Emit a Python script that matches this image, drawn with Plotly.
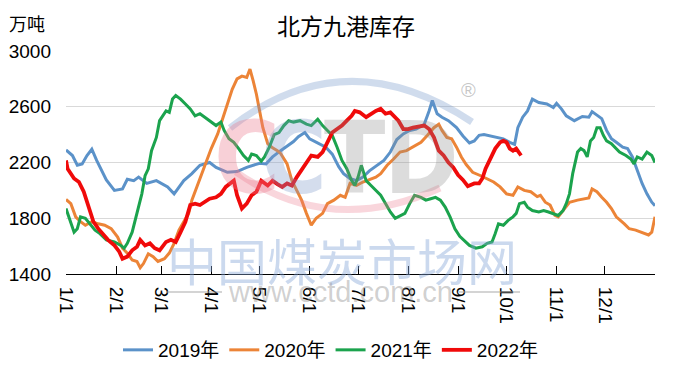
import plotly.graph_objects as go

# ---------------- data (day-of-year, value in 万吨) ----------------
month_ticks = [0, 31, 59, 90, 120, 151, 181, 212, 243, 273, 304, 334, 365]
month_labels = ["1/1", "2/1", "3/1", "4/1", "5/1", "6/1", "7/1", "8/1", "9/1", "10/1", "11/1", "12/1", ""]

days_2019 = [0, 4, 7, 10, 13, 16, 19, 22, 25, 30, 35, 38, 42, 45, 50, 56, 63, 67, 70, 73, 78, 83, 89, 93,
             100, 106, 112, 120, 124, 128, 133, 137, 141, 144, 148, 151, 155, 161, 165, 169, 172, 176, 180,
             184, 188, 193, 197, 201, 205, 209, 213, 217, 222, 225, 227, 230, 233, 237, 242, 246, 250, 253,
             256, 259, 263, 267, 271, 275, 278, 280, 283, 286, 289, 293, 298, 302, 304, 307, 310, 315, 320,
             324, 326, 329, 332, 335, 338, 341, 345, 348, 351, 354, 357, 360, 363, 365]
vals_2019 = [2290, 2250, 2180, 2190, 2250, 2295, 2215, 2145, 2075, 2000, 2010, 2080, 2070, 2095, 2050, 2070,
             2025, 1975, 2020, 2070, 2120, 2180, 2200, 2165, 2130, 2135, 2165, 2195, 2190, 2240, 2285, 2320,
             2350, 2385, 2415, 2370, 2345, 2310, 2260, 2170, 2120, 2085, 2070, 2095, 2140, 2180, 2215, 2275,
             2365, 2405, 2430, 2440, 2475, 2570, 2645, 2550, 2525, 2500, 2450, 2390, 2340, 2355, 2395, 2400,
             2390, 2380, 2370, 2345, 2330, 2450, 2525, 2570, 2655, 2630, 2620, 2595, 2625, 2585, 2535, 2500,
             2530, 2525, 2565, 2540, 2515, 2430, 2370, 2345, 2310, 2300, 2240, 2145, 2050, 1975, 1915, 1890]

days_2020 = [0, 3, 6, 9, 12, 16, 20, 24, 28, 32, 35, 38, 41, 44, 46, 48, 51, 54, 57, 61, 64, 67, 70, 73, 76,
             78, 81, 84, 87, 90, 94, 97, 100, 103, 106, 109, 112, 114, 116, 118, 120, 122, 125, 128, 131, 133,
             137, 140, 143, 146, 149, 152, 155, 159, 162, 166, 170, 173, 176, 180, 184, 189, 192, 195, 199, 203,
             207, 211, 215, 220, 224, 228, 231, 233, 236, 239, 242, 245, 248, 252, 257, 261, 265, 269, 273, 277,
             280, 284, 288, 292, 294, 297, 300, 303, 305, 308, 312, 317, 321, 324, 326, 329, 332, 335, 338, 341,
             346, 349, 353, 357, 361, 363, 365]
vals_2020 = [1935, 1905, 1810, 1775, 1750, 1775, 1760, 1750, 1725, 1665, 1585, 1550, 1500, 1490, 1445, 1475,
             1545, 1525, 1490, 1510, 1550, 1620, 1715, 1775, 1835, 1930, 2025, 2105, 2200, 2300, 2405, 2510,
             2605, 2725, 2800, 2820, 2810, 2870, 2785, 2690, 2570, 2450, 2335, 2305, 2285, 2265, 2190, 2070,
             2000, 1930, 1835, 1750, 1800, 1835, 1905, 1930, 1965, 1950, 2050, 2035, 2060, 2085, 2095, 2120,
             2180, 2225, 2275, 2285, 2310, 2345, 2395, 2450, 2475, 2430, 2380, 2370, 2310, 2240, 2185, 2130,
             2105, 2085, 2060, 2025, 1975, 1965, 2025, 2000, 1990, 1955, 1965, 1915, 1895, 1820, 1810, 1855,
             1915, 1930, 1940, 1945, 2010, 1990, 1950, 1915, 1870, 1810, 1760, 1725, 1715, 1700, 1680, 1700, 1810]

days_2021 = [0, 3, 5, 7, 9, 12, 15, 18, 21, 25, 30, 34, 36, 38, 41, 44, 47, 49, 51, 53, 56, 58, 62, 64, 66,
             68, 71, 74, 77, 80, 83, 86, 89, 93, 96, 98, 101, 104, 107, 110, 113, 115, 118, 121, 123, 126, 129,
             132, 135, 138, 141, 145, 149, 152, 156, 159, 162, 165, 168, 171, 174, 177, 179, 181, 183, 186, 189,
             192, 195, 198, 201, 204, 207, 210, 213, 216, 220, 223, 226, 229, 232, 235, 238, 241, 244, 247, 250,
             254, 258, 261, 264, 266, 268, 271, 274, 277, 279, 281, 284, 286, 289, 293, 296, 299, 302, 305, 308,
             310, 312, 314, 317, 319, 321, 323, 325, 327, 329, 331, 333, 335, 338, 340, 343, 347, 350, 352, 354,
             357, 360, 363, 365]
vals_2021 = [1870, 1775, 1700, 1725, 1810, 1800, 1760, 1715, 1690, 1645, 1630, 1605, 1585, 1620, 1700, 1835,
             1975, 2105, 2155, 2285, 2380, 2500, 2570, 2560, 2655, 2680, 2655, 2620, 2585, 2535, 2550, 2525,
             2500, 2465, 2490, 2430, 2370, 2345, 2300, 2250, 2215, 2260, 2250, 2210, 2240, 2310, 2400, 2415,
             2465, 2500, 2490, 2500, 2475, 2465, 2510, 2465, 2430, 2395, 2310, 2215, 2155, 2070, 2035, 2095,
             2180, 2070, 2035, 2000, 1965, 1905, 1845, 1800, 1820, 1835, 1905, 1965, 1950, 1930, 1940, 1950,
             1930, 1880, 1810, 1725, 1670, 1635, 1605, 1585, 1595, 1620, 1630, 1690, 1760, 1750, 1785, 1810,
             1835, 1905, 1915, 1880, 1855, 1845, 1855, 1845, 1835, 1820, 1855, 1905, 1975, 2120, 2275, 2300,
             2285, 2240, 2355, 2380, 2450, 2450, 2395, 2355, 2335, 2310, 2275, 2250, 2225, 2190, 2240, 2225,
             2275, 2250, 2200]

days_2022 = [0, 1, 5, 8, 11, 14, 17, 20, 23, 26, 30, 33, 35, 38, 41, 44, 46, 49, 52, 55, 58, 62, 65, 68, 71,
             74, 77, 80, 83, 86, 89, 93, 96, 99, 102, 104, 106, 109, 112, 115, 118, 121, 125, 128, 131, 134, 137,
             140, 143, 146, 149, 152, 156, 159, 162, 165, 168, 171, 174, 177, 179, 182, 186, 189, 192, 195, 198,
             201, 203, 206, 209, 212, 215, 219, 222, 225, 228, 231, 234, 237, 240, 243, 246, 249, 253, 256, 258,
             260, 263, 266, 269, 271, 273, 275, 277, 279, 282]
vals_2022 = [2215, 2155, 2085, 2060, 1990, 1880, 1775, 1725, 1680, 1645, 1605, 1560, 1510, 1525, 1570, 1595,
             1645, 1605, 1620, 1585, 1570, 1630, 1645, 1630, 1700, 1775, 1895, 1905, 1895, 1915, 1940, 1950,
             1975, 2025, 2050, 2070, 1965, 1870, 1905, 1965, 1990, 2070, 2035, 2070, 2045, 2025, 2050, 2035,
             2095, 2145, 2200, 2250, 2240, 2275, 2345, 2415, 2440, 2465, 2500, 2535, 2570, 2560, 2525, 2550,
             2570, 2585, 2550, 2560, 2535, 2500, 2440, 2440, 2450, 2455, 2465, 2440, 2380, 2285, 2250, 2200,
             2165, 2110, 2075, 2030, 2050, 2050, 2085, 2155, 2225, 2300, 2345, 2355, 2345, 2300, 2285, 2300, 2250]

series_names = ["2019年", "2020年", "2021年", "2022年"]
series_colors = ["#5B92C9", "#EC8437", "#1BA34D", "#F00A0A"]
series_widths = [3, 3, 3, 3.8]

# ---------------- figure ----------------
# the page body has an 8px default margin, so the figure is drawn 8px in from the window edge
OFF = 8
W, H = 692 - OFF, 379 - OFF
L, R, T, B = 66 - OFF, 37, 51 - OFF, 105
pw, ph = W - L - R, H - T - B


def px(X):
    """window pixel x -> paper fraction"""
    return (X - OFF - L) / pw


def py(Y):
    """window pixel y -> paper fraction"""
    return (H - B - (Y - OFF)) / ph


fig = go.Figure()
for name, d, v, c, w in zip(series_names,
                            [days_2019, days_2020, days_2021, days_2022],
                            [vals_2019, vals_2020, vals_2021, vals_2022],
                            series_colors, series_widths):
    fig.add_trace(go.Scatter(x=d, y=v, name=name, mode="lines",
                             line=dict(color=c, width=w)))

FONT = "Liberation Sans, Arial, Noto Sans CJK SC, sans-serif"
CJK = "Noto Sans CJK SC, sans-serif"

fig.update_layout(
    width=W, height=H,
    margin=dict(l=L, r=R, t=T, b=B, pad=0, autoexpand=False),
    paper_bgcolor="white", plot_bgcolor="white",
    font=dict(family=FONT, size=19, color="#000000"),
    title=dict(text="北方九港库存", x=(346 - OFF) / W, xref="container", xanchor="center",
               y=1 - (27 - OFF) / H, yref="container", yanchor="middle", automargin=False,
               font=dict(family=CJK, size=23, color="#000000")),
    showlegend=True,
    legend=dict(orientation="h", x=px(118), xanchor="left", y=py(350), yanchor="middle",
                font=dict(family=FONT, size=19, color="#000000"),
                bgcolor="rgba(0,0,0,0)", itemwidth=30, tracegroupgap=0),
    xaxis=dict(range=[0, 365], tickmode="array", tickvals=month_ticks, ticktext=month_labels,
               tickangle=90, ticks="inside", ticklen=8, tickwidth=1, tickcolor="#000000",
               showline=True, linecolor="#000000", linewidth=1, showgrid=False, zeroline=False,
               automargin=False,
               tickfont=dict(family=FONT, size=19, color="#000000"), ticklabelstandoff=8),
    yaxis=dict(range=[1400, 3000], tick0=1400, dtick=400, showgrid=True, gridcolor="#D9D9D9",
               gridwidth=1, showline=False, zeroline=False, ticks="", automargin=False,
               tickfont=dict(family=FONT, size=19, color="#000000"), ticklabelstandoff=14),
)


def note(text, X, Y, font):
    fig.add_annotation(text=text, x=px(X), y=py(Y), xref="paper", yref="paper",
                       xanchor="center", yanchor="middle", showarrow=False, font=font)


# unit label
note("万吨", 27, 23, dict(family=CJK, size=18, color="#000000"))

# ---------------- watermark (CCTD) ----------------
shapes = [
    dict(type="path", xref="paper", yref="paper", layer="above",
         path=f"M {px(230)},{py(128)} Q {px(345)},{py(38)} {px(472)},{py(122)}",
         line=dict(color="rgba(110,145,200,0.32)", width=7)),
    dict(type="path", xref="paper", yref="paper", layer="above",
         path=f"M {px(236)},{py(172)} Q {px(330)},{py(238)} {px(440)},{py(188)}",
         line=dict(color="rgba(235,120,140,0.30)", width=7)),
    dict(type="line", xref="paper", yref="paper", layer="above",
         x0=px(166), x1=px(222), y0=py(292), y1=py(292),
         line=dict(color="rgba(160,160,160,0.45)", width=2)),
    dict(type="line", xref="paper", yref="paper", layer="above",
         x0=px(459), x1=px(520), y0=py(292), y1=py(292),
         line=dict(color="rgba(160,160,160,0.45)", width=2)),
]
fig.update_layout(shapes=shapes)

wm_letters = [("C", 247, "rgba(235,120,140,0.35)"), ("C", 294, "rgba(120,150,200,0.32)"),
              ("T", 354, "rgba(140,140,140,0.30)"), ("D", 421, "rgba(140,140,140,0.30)")]
for ch, cx, col in wm_letters:
    note(ch, cx, 158, dict(family="DejaVu Sans Condensed, Liberation Sans", size=100, color=col,
                           weight="bold"))
note("®", 468, 90, dict(family="Liberation Sans", size=20, color="rgba(150,150,150,0.55)"))
note("中国煤炭市场网", 342, 259, dict(family=CJK, size=50, color="rgba(130,165,215,0.42)"))
note("www.cctd.com.cn", 340, 292, dict(family="Liberation Sans", size=29,
                                       color="rgba(150,150,150,0.45)"))

fig.write_html("out.html")
